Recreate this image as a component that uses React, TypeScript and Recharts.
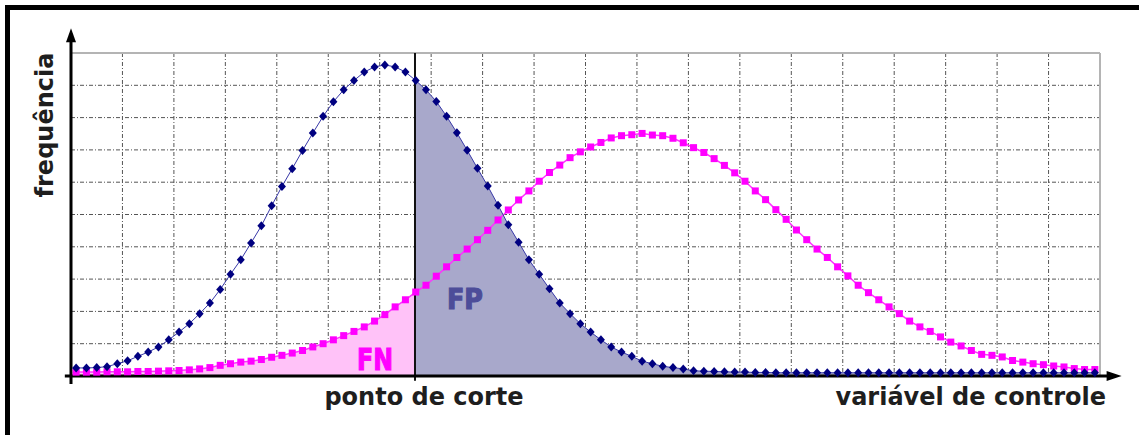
import React from "react"
import {
  ComposedChart,
  Line,
  Area,
  XAxis,
  YAxis,
  CartesianGrid,
  ReferenceLine,
  ReferenceDot,
} from "recharts"

// one sample per fifth of a grid column (grid units)
const negatives = [
  0.25, 0.25, 0.26, 0.29, 0.38, 0.47, 0.61, 0.74, 0.9, 1.12,
  1.36, 1.62, 1.93, 2.26, 2.68, 3.15, 3.6, 4.12, 4.65, 5.27,
  5.87, 6.42, 6.98, 7.52, 8.04, 8.49, 8.86, 9.15, 9.41, 9.57,
  9.63, 9.57, 9.41, 9.15, 8.86, 8.5, 8.04, 7.53, 6.99, 6.43,
  5.88, 5.29, 4.68, 4.14, 3.6, 3.15, 2.7, 2.26, 1.93, 1.62,
  1.36, 1.12, 0.9, 0.74, 0.61, 0.46, 0.38, 0.3, 0.26, 0.22,
  0.16, 0.15, 0.14, 0.13, 0.12, 0.12, 0.11, 0.11, 0.1, 0.1,
  0.1, 0.1, 0.1, 0.1, 0.1, 0.1, 0.1, 0.1, 0.1, 0.1,
  0.1, 0.1, 0.1, 0.1, 0.1, 0.1, 0.1, 0.1, 0.1, 0.1,
  0.1, 0.1, 0.1, 0.1, 0.1, 0.1, 0.1, 0.1, 0.1, 0.1,
]

const positives = [
  0.12, 0.12, 0.12, 0.13, 0.13, 0.13, 0.14, 0.14, 0.15, 0.16,
  0.17, 0.19, 0.22, 0.26, 0.33, 0.38, 0.43, 0.46, 0.51, 0.58,
  0.64, 0.71, 0.79, 0.9, 1.0, 1.12, 1.25, 1.38, 1.52, 1.7,
  1.9, 2.14, 2.36, 2.6, 2.81, 3.09, 3.38, 3.67, 3.93, 4.22,
  4.51, 4.83, 5.14, 5.45, 5.73, 6.03, 6.3, 6.53, 6.76, 6.94,
  7.09, 7.23, 7.37, 7.44, 7.47, 7.51, 7.46, 7.44, 7.36, 7.22,
  7.07, 6.92, 6.73, 6.52, 6.29, 6.03, 5.73, 5.46, 5.15, 4.85,
  4.52, 4.22, 3.93, 3.67, 3.38, 3.1, 2.81, 2.58, 2.36, 2.14,
  1.93, 1.7, 1.52, 1.38, 1.21, 1.05, 0.93, 0.79, 0.67, 0.64,
  0.59, 0.48, 0.43, 0.38, 0.35, 0.31, 0.28, 0.23, 0.2, 0.2,
]

const cutoff = 33.43
const gridX = [0, 5, 10, 15, 20, 25, 30, 35, 40, 45, 50, 55, 60, 65, 70, 75, 80, 85, 90, 95, 100]
const gridY = [0, 1, 2, 3, 4, 5, 6, 7, 8, 9, 10]

// value on the straight segment between two samples
const at = (arr: number[], x: number) => {
  const i = Math.floor(x - 0.5)
  const t = x - 0.5 - i
  return arr[i] + (arr[i + 1] - arr[i]) * t
}

const rows: any[] = [{ x: 0, fn: positives[0] }]
positives.forEach((p, i) => {
  const x = i + 0.5
  if (x > cutoff && x - 1 < cutoff) {
    const n0 = at(negatives, cutoff)
    const p0 = at(positives, cutoff)
    rows.push({ x: cutoff, neg: n0, pos: p0, fn: p0, fp: n0 })
  }
  rows.push({
    x,
    neg: negatives[i],
    pos: p,
    pt: true,
    fn: x < cutoff ? p : null,
    fp: x > cutoff ? negatives[i] : null,
  })
})

const diamond = (props: any) => {
  const { cx, cy, payload, index } = props
  if (!payload?.pt || cx == null) return <g key={`d${index}`} />
  return (
    <polygon
      key={`d${index}`}
      points={`${cx},${cy - 4.5} ${cx + 4},${cy} ${cx},${cy + 4.5} ${cx - 4},${cy}`}
      fill="#000080"
    />
  )
}

const square = (props: any) => {
  const { cx, cy, payload, index } = props
  if (!payload?.pt || cx == null) return <g key={`s${index}`} />
  return <rect key={`s${index}`} x={cx - 3.5} y={cy - 3.5} width={7} height={7} fill="#ff00ff" />
}

const upArrow = (props: any) => {
  const { cx, cy } = props
  return <polygon points={`${cx},${cy} ${cx - 5},${cy + 14} ${cx + 5},${cy + 14}`} fill="#000" />
}

const rightArrow = (props: any) => {
  const { cx, cy } = props
  return <polygon points={`${cx},${cy} ${cx - 15},${cy - 5} ${cx - 15},${cy + 5}`} fill="#000" />
}

const labelFont = "'DejaVu Sans', Verdana, sans-serif"

export default function App() {
  return (
    <div style={{ position: "absolute", left: 0, top: 0, width: 1139, height: 435, background: "#fff" }}>
      <div
        style={{
          position: "absolute",
          left: 5,
          top: 5,
          right: 0,
          bottom: 0,
          borderTop: "5px solid #000",
          borderLeft: "5px solid #000",
        }}
      />
      <div style={{ position: "absolute", left: 0, top: 0 }}>
        <ComposedChart
          width={1139}
          height={435}
          data={rows}
          margin={{ top: 53, right: 39, bottom: 59, left: 71 }}
        >
          <XAxis type="number" dataKey="x" domain={[0, 100]} hide />
          <YAxis type="number" domain={[0, 10]} hide />
          <CartesianGrid
            horizontalValues={gridY}
            verticalValues={gridX}
            stroke="#555"
            strokeDasharray="4 2 1 2"
          />
          <ReferenceLine y={10} stroke="#b4b4b4" strokeWidth={2} />
          <ReferenceLine x={100} stroke="#b4b4b4" strokeWidth={2} />
          <Area
            dataKey="fn"
            type="linear"
            fill="#ffc2f8"
            fillOpacity={1}
            stroke="none"
            isAnimationActive={false}
            activeDot={false}
          />
          <Area
            dataKey="fp"
            type="linear"
            fill="#a8a8cb"
            fillOpacity={1}
            stroke="none"
            isAnimationActive={false}
            activeDot={false}
          />
          <ReferenceLine
            segment={[{ x: cutoff, y: -0.15 }, { x: cutoff, y: 10 }]}
            stroke="#111"
            strokeWidth={2}
            ifOverflow="visible"
          />
          <Line
            dataKey="pos"
            type="linear"
            stroke="#ff33ff"
            strokeWidth={1.5}
            dot={square}
            activeDot={false}
            isAnimationActive={false}
          />
          <Line
            dataKey="neg"
            type="linear"
            stroke="#3838a8"
            strokeWidth={1}
            dot={diamond}
            activeDot={false}
            isAnimationActive={false}
          />
          <ReferenceLine
            segment={[{ x: 0, y: -0.25 }, { x: 0, y: 10.6 }]}
            stroke="#000"
            strokeWidth={3}
            ifOverflow="visible"
          />
          <ReferenceLine
            segment={[{ x: -0.6, y: 0 }, { x: 101.5, y: 0 }]}
            stroke="#000"
            strokeWidth={3}
            ifOverflow="visible"
          />
          <ReferenceDot x={0} y={10.77} ifOverflow="visible" shape={upArrow} />
          <ReferenceDot x={102.1} y={0} ifOverflow="visible" shape={rightArrow} />
        </ComposedChart>
      </div>
      <svg
        width={1139}
        height={435}
        style={{ position: "absolute", left: 0, top: 0, pointerEvents: "none" }}
      >
        <text
          x={0}
          y={0}
          transform="translate(53 125) rotate(-90)"
          textAnchor="middle"
          fontFamily={labelFont}
          fontWeight="bold"
          fontSize={24}
          fill="#1e1e1e"
        >
          frequência
        </text>
        <text x={424} y={405} textAnchor="middle" fontFamily={labelFont} fontWeight="bold" fontSize={24} fill="#1e1e1e">
          ponto de corte
        </text>
        <text x={1106} y={405} textAnchor="end" fontFamily={labelFont} fontWeight="bold" fontSize={24} fill="#1e1e1e">
          variável de controle
        </text>
        <text
          x={357}
          y={370}
          fontFamily={labelFont}
          fontWeight="bold"
          fontSize={31}
          textLength={36}
          lengthAdjust="spacingAndGlyphs"
          fill="#ff00ff"
          stroke="#ff00ff"
          strokeWidth={1.2}
        >
          FN
        </text>
        <text
          x={447}
          y={309}
          fontFamily={labelFont}
          fontWeight="bold"
          fontSize={29}
          textLength={36}
          lengthAdjust="spacingAndGlyphs"
          fill="#4d4d99"
          stroke="#4d4d99"
          strokeWidth={1.2}
        >
          FP
        </text>
      </svg>
    </div>
  )
}
